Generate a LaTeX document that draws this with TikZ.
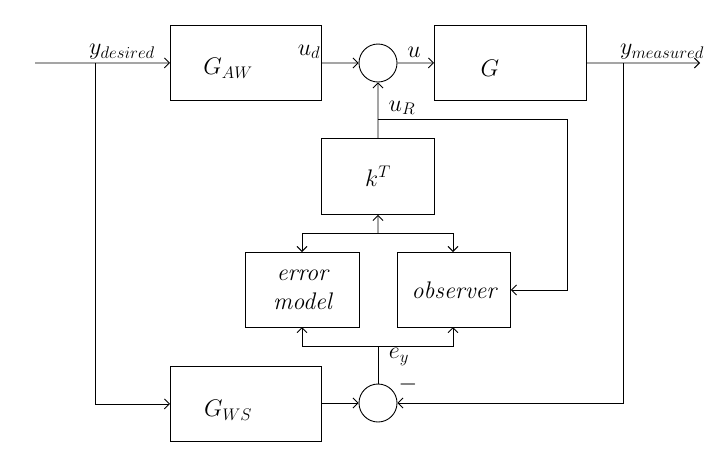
\RequirePackage{fix-cm}
\documentclass[tikz,border=0pt]{standalone}
\usetikzlibrary{arrows.meta}
\begin{document}
\begin{tikzpicture}[x=1pt,y=-1pt,>={Straight Barb[length=5pt,width=10pt]},line width=0.9pt,
 sum/.style={draw,circle,minimum size=38pt,inner sep=0pt},
 box/.style={draw,minimum height=75pt,anchor=north west},
 txt/.style={font=\fontsize{24}{29}\selectfont,inner sep=0pt}]
\useasboundingbox (0,0) rectangle (719,459);
\node[box,minimum width=151pt] (gaw) at (170,25) {};
\node[txt] (tgaw) at (228,68) {$G_{AW}$};
\node[box,minimum width=152pt] (g) at (434,25) {};
\node[txt] (tg) at (490,68) {$G$};
\node[sum] (s1) at (378,63) {};
\node[box,minimum width=113pt,minimum height=76pt] (k) at (321,138) {};
\node[txt] (tk) at (k.center) {$k^T$};
\node[box,minimum width=114pt] (em) at (245,252) {};
\node[txt,align=center] (tem) at (em.center) {\itshape error\\ \itshape model};
\node[box,minimum width=113pt] (ob) at (397,252) {};
\node[txt] (tob) at (ob.center) {\itshape observer};
\node[box,minimum width=151pt] (gws) at (170,366) {};
\node[txt] (tgws) at (228,410) {$G_{WS}$};
\node[sum] (s2) at (378,403) {};
\coordinate (in) at (35,63);
\coordinate (out) at (700,63);
\coordinate (bx) at (95,63);
\coordinate (mx) at (623,63);
\coordinate (ur) at (378,119);
\coordinate (kb) at (378,233);
\coordinate (eb) at (378,346);
\draw[->] (in) -- (gaw.west);
\draw[->] (gaw.east) -- (s1.west);
\draw[->] (s1.east) -- (g.west);
\draw[->] (g.east) -- (out);
\draw[->] (k.north) -- (s1.south);
\draw[->] (ur) -- (567,119) |- (ob.east);
\draw[->] (kb) -- (k.south);
\draw[->] (kb) -- (302,233) -- (302,252);
\draw[->] (kb) -- (453,233) -- (453,252);
\draw (s2.north) -- (eb);
\draw[->] (eb) -- (302,346) -- (302,327);
\draw[->] (eb) -- (453,346) -- (453,327);
\draw[->] (bx) |- (gws.west);
\draw[->] (gws.east |- s2.west) -- (s2.west);
\draw[->] (mx) |- (s2.east);
\node[txt] (l1) at (122,52) {$y_{desired}$};
\node[txt] (l2) at (309,52) {$u_d$};
\node[txt] (l3) at (414,52) {$u$};
\node[txt] (l4) at (662,52) {$y_{measured}$};
\node[txt] (l5) at (402,108) {$u_R$};
\node[txt] (l6) at (399,357) {$e_y$};
\node[txt] (l7) at (408,384) {$-$};
\end{tikzpicture}
\end{document}
